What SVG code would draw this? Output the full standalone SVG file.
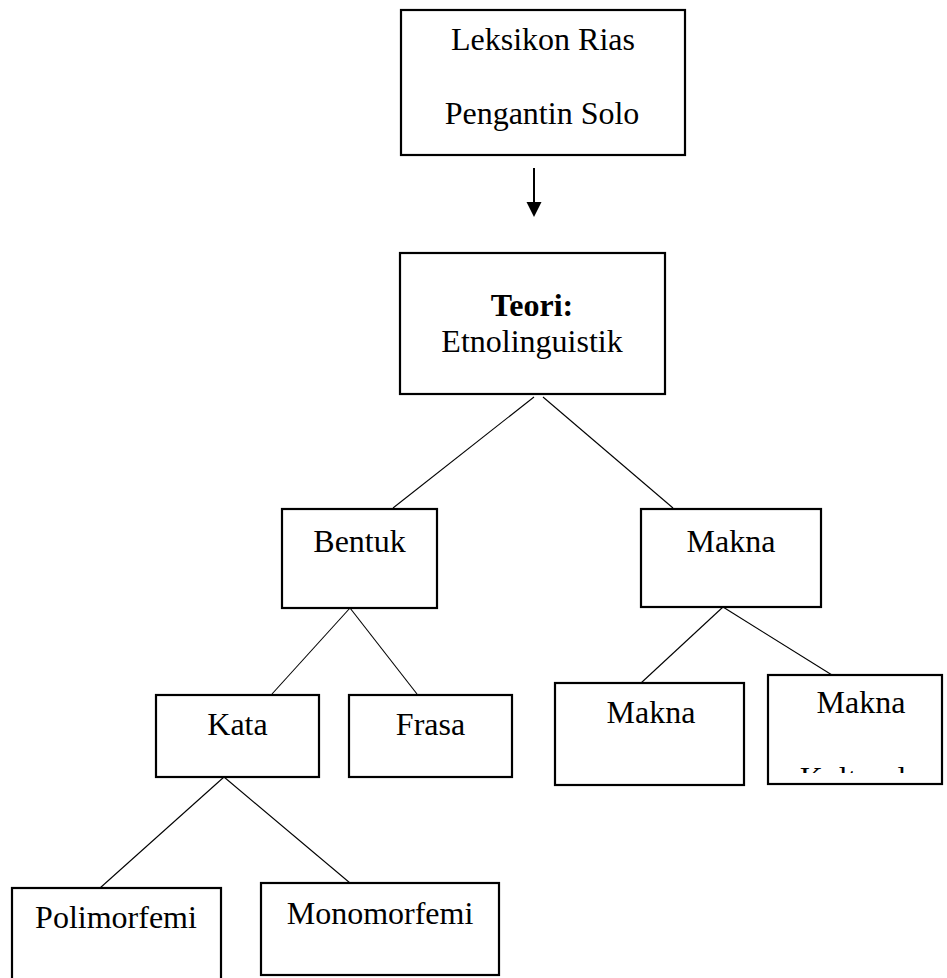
<svg xmlns="http://www.w3.org/2000/svg" width="947" height="978" viewBox="0 0 947 978">
<style>
.box{fill:#fff;stroke:#000;stroke-width:2.2}
.t{font-family:"Liberation Serif","Times New Roman",serif;font-size:32px;fill:#000;text-anchor:middle}
.b{font-weight:bold}
.c line{stroke:#000;stroke-width:1.1}
</style>
<defs>
<clipPath id="kclip"><rect x="768" y="676" width="174" height="97"/></clipPath>
</defs>
<rect width="947" height="978" fill="#fff"/>
<g class="c" id="connectors">
<line x1="534" y1="397" x2="393" y2="508"/>
<line x1="543" y1="397" x2="673" y2="508"/>
<line x1="350" y1="608" x2="272" y2="694"/>
<line x1="350" y1="608" x2="417" y2="694"/>
<line x1="723" y1="607" x2="641" y2="683"/>
<line x1="723" y1="607" x2="832" y2="675"/>
<line x1="224" y1="777" x2="100" y2="888"/>
<line x1="224" y1="777" x2="350" y2="883"/>
<line x1="534" y1="168" x2="534" y2="204" style="stroke-width:2"/>
<polygon points="526.5,202 541.5,202 534,217" fill="#000"/>
</g>
<g id="leksikon">
<rect class="box" x="401" y="10" width="284" height="145"/>
<text class="t" x="543" y="50">Leksikon Rias</text>
<text class="t" x="542" y="124">Pengantin Solo</text>
</g>
<g id="teori">
<rect class="box" x="400" y="253" width="265" height="141"/>
<text class="t b" x="532" y="316">Teori:</text>
<text class="t" x="532" y="352">Etnolinguistik</text>
</g>
<g id="bentuk">
<rect class="box" x="282" y="509" width="155" height="99"/>
<text class="t" x="359.5" y="552">Bentuk</text>
</g>
<g id="makna">
<rect class="box" x="641" y="509" width="180" height="98"/>
<text class="t" x="731" y="552">Makna</text>
</g>
<g id="kata">
<rect class="box" x="156" y="695" width="163" height="82"/>
<text class="t" x="237.5" y="735">Kata</text>
</g>
<g id="frasa">
<rect class="box" x="349" y="695" width="163" height="82"/>
<text class="t" x="430.5" y="735">Frasa</text>
</g>
<g id="makna-leksikal">
<rect class="box" x="555" y="683" width="189" height="102"/>
<text class="t" x="651" y="723">Makna</text>
</g>
<g id="makna-kultural">
<rect class="box" x="768" y="675" width="174" height="109"/>
<text class="t" x="861" y="713">Makna</text>
<text class="t" x="853" y="789" clip-path="url(#kclip)">Kultural</text>
</g>
<g id="polimorfemi">
<rect class="box" x="12" y="888" width="209" height="100"/>
<text class="t" x="116" y="928">Polimorfemi</text>
</g>
<g id="monomorfemi">
<rect class="box" x="261" y="883" width="238" height="92"/>
<text class="t" x="380" y="924">Monomorfemi</text>
</g>
</svg>
